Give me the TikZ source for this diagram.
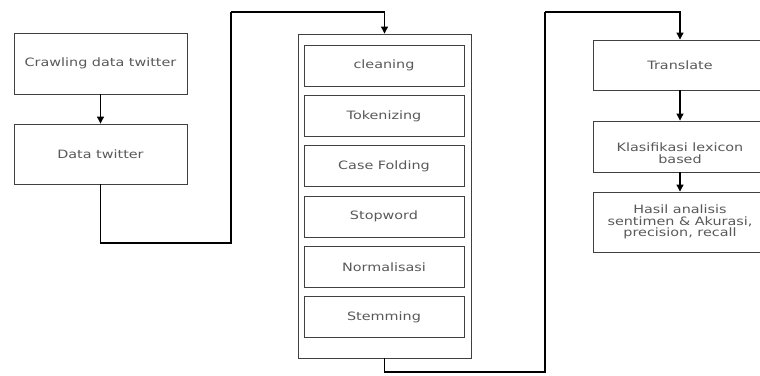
\documentclass[tikz,border=0pt]{standalone}
\usepackage{fontspec}
\newfontfamily\boxfont[FakeStretch=1.25]{DejaVu Sans}
\usetikzlibrary{arrows.meta}
\begin{document}
\begin{tikzpicture}[x=1pt,y=-1pt,
  box/.style={draw=black!75,line width=0.9pt,inner sep=0pt,align=center,
    font=\boxfont\fontsize{11.5}{11.7}\selectfont,text=black!65},
  inbox/.style={box,minimum width=160pt,minimum height=41pt},
  conn/.style={draw=black,line width=1.1pt},
  arr/.style={conn,-{Triangle[length=7pt,width=7pt]}}]
\useasboundingbox (0,0) rectangle (760,375);
\clip (0,0) rectangle (760,375);
\fill[white] (0,0) rectangle (760,375);
% left column
\node[box,minimum width=173pt,minimum height=61pt] (crawl) at (100.5,63.5) {Crawling data twitter};
\node[box,minimum width=173pt,minimum height=60pt] (dt) at (100.5,154) {Data twitter};
\draw[arr] (crawl.south) -- (dt.north);
% preprocessing column
\node[box,minimum width=173pt,minimum height=324pt] (outer) at (384.5,196) {};
\node[inbox] (clean) at (384,65.5) {cleaning};
\node[inbox] (token) at (384,116) {Tokenizing};
\node[inbox] (case) at (384,166) {Case Folding};
\node[inbox] (stop) at (384,216.5) {Stopword};
\node[inbox] (norm) at (384,267) {Normalisasi};
\node[inbox] (stem) at (384,317) {Stemming};
% connector 1
\coordinate (p1) at (231,243);
\coordinate (p2) at (231,12);
\draw[conn] (dt.south) |- (p1) -- (p2);
\draw[arr] (p2) -| (outer.north);
% right column
\node[box,minimum width=174pt,minimum height=50pt] (tr) at (680,65) {Translate};
\node[box,minimum width=174pt,minimum height=51pt] (kl) at (680,146.5) {\rule{0pt}{22pt}Klasifikasi lexicon\\based};
\node[box,minimum width=174pt,minimum height=60pt] (ha) at (680,222) {\rule{0pt}{5pt}Hasil analisis\\sentimen \& Akurasi,\\precision, recall};
\draw[arr] (tr.south) -- (kl.north);
\draw[arr] (kl.south) -- (ha.north);
% connector 2
\coordinate (p3) at (545,372);
\coordinate (p4) at (545,12);
\draw[conn] (outer.south) |- (p3) -- (p4);
\draw[arr] (p4) -| (tr.north);
\end{tikzpicture}
\end{document}
